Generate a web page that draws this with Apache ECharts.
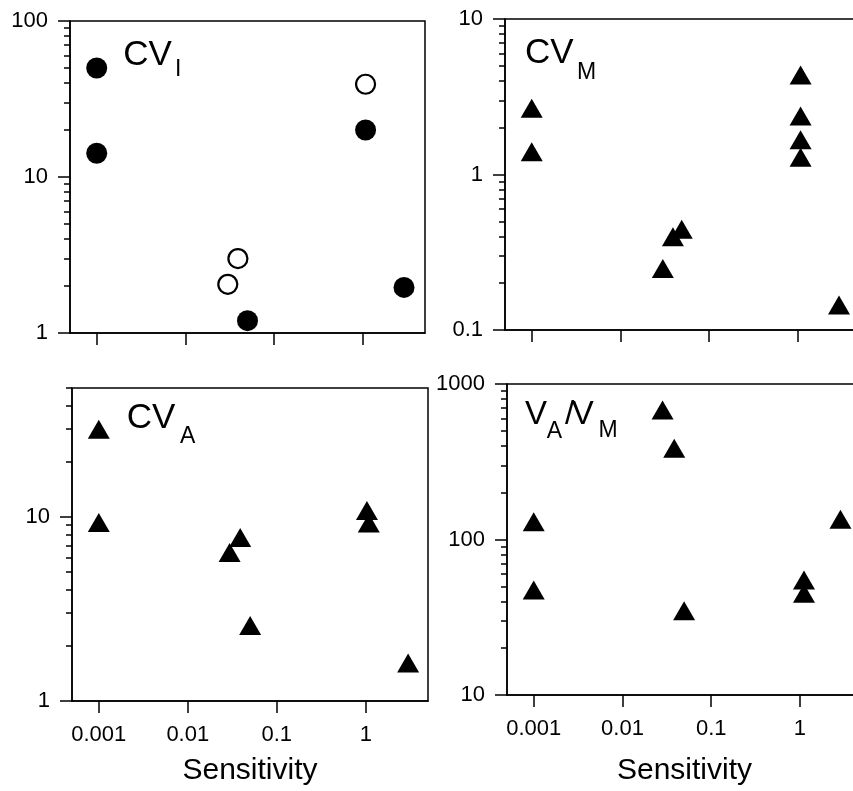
<!DOCTYPE html>
<html lang="en">
<head>
<meta charset="UTF-8">
<title>Sensitivity</title>
<script src="https://cdn.jsdelivr.net/npm/echarts@6/dist/echarts.min.js"></script>
<style>html,body{margin:0;padding:0;background:#fff;overflow:hidden}</style>
</head>
<body>
<!-- a bit wider than the window: the right panels run past the edge -->
<div id="chart" style="width:875px;height:791px"></div>
<script>
// CV_I panel (filled and open circles)
var cviFilledX = [0.001, 0.001, 0.05, 1.07, 2.9];
var cviFilledY = [50, 14.2, 1.2, 20, 1.96];
var cviOpenX = [1.07, 0.039, 0.03];
var cviOpenY = [39.3, 3.0, 2.05];
// CV_M panel
var cvmX = [0.001, 0.001, 1.07, 1.07, 1.07, 1.07, 0.03, 0.039, 0.049, 2.9];
var cvmY = [2.67, 1.40, 4.36, 2.38, 1.67, 1.29, 0.249, 0.398, 0.444, 0.145];
// CV_A panel
var cvaX = [0.001, 0.001, 0.0295, 0.0388, 0.0502, 1.03, 1.08, 2.99];
var cvaY = [29.9, 9.32, 6.39, 7.72, 2.57, 10.8, 9.24, 1.61];
// V_A/V_M panel
var ratioX = [0.001, 0.001, 0.0283, 0.0383, 0.0495, 1.11, 1.11, 2.86];
var ratioY = [130, 47.3, 681, 386, 34.8, 54.9, 45.1, 135];

// axes
var xTicks = [0.001, 0.01, 0.1, 1];
var xTickLabels = ['0.001', '0.01', '0.1', '1'];
var yTicksCVI = [1, 10, 100];
var yLabelsCVI = ['1', '10', '100'];
var yTicksCVM = [0.1, 1, 10];
var yLabelsCVM = ['0.1', '1', '10'];
var yTicksCVA = [1, 10];
var yLabelsCVA = ['1', '10'];
var yTicksRatio = [10, 100, 1000];
var yLabelsRatio = ['10', '100', '1000'];

var chart = echarts.init(document.getElementById('chart'));
var FONT = '"Liberation Sans", Arial, sans-serif';

function pairs(xs, ys) {
	return xs.map(function (x, i) { return [x, ys[i]]; });
}
// 2..9 times each power of ten inside [lo, hi]
function minorValues(lo, hi) {
	var res = [];
	for (var e = Math.floor(Math.log10(lo)); e <= Math.ceil(Math.log10(hi)); e++) {
		for (var k = 2; k <= 9; k++) {
			var v = +(k * Math.pow(10, e)).toPrecision(6);
			if (v >= lo && v <= hi) res.push(v);
		}
	}
	return res;
}
function labeler(ticks, labels) {
	return function (v) {
		for (var i = 0; i < ticks.length; i++) {
			if (Math.abs(ticks[i] - v) < ticks[i] * 1e-6) return labels[i];
		}
		return '';
	};
}

var line = {color: '#000', width: 1.5};
var panels = [
	{grid: {left: 70, top: 21, width: 355, height: 312}, ymin: 1, ymax: 100, yt: yTicksCVI, yl: yLabelsCVI, bottom: false},
	{grid: {left: 505, top: 19, width: 355, height: 311}, ymin: 0.1, ymax: 10, yt: yTicksCVM, yl: yLabelsCVM, bottom: false},
	{grid: {left: 72, top: 388, width: 356, height: 313}, ymin: 1, ymax: 50, yt: yTicksCVA, yl: yLabelsCVA, bottom: true, gap: 55},
	{grid: {left: 507, top: 384, width: 355, height: 311}, ymin: 10, ymax: 1000, yt: yTicksRatio, yl: yLabelsRatio, bottom: true, gap: 61}
];

var grid = [], xAxis = [], yAxis = [];
panels.forEach(function (p, i) {
	grid.push(Object.assign({show: true, borderColor: '#000', borderWidth: 1.5, backgroundColor: 'transparent'}, p.grid));
	xAxis.push({
		type: 'log', gridIndex: i, min: 0.0005, max: 5,
		axisLine: {show: true, onZero: false, lineStyle: line},
		axisTick: {show: true, customValues: xTicks, length: 12, lineStyle: line},
		axisLabel: {show: p.bottom, customValues: xTicks, formatter: labeler(xTicks, xTickLabels),
			color: '#000', fontSize: 22, fontFamily: FONT, margin: 23},
		splitLine: {show: false},
		name: p.bottom ? 'Sensitivity' : '', nameLocation: 'middle', nameGap: p.gap || 0,
		nameTextStyle: {color: '#000', fontSize: 30, fontFamily: FONT}
	});
	yAxis.push({
		type: 'log', gridIndex: i, min: p.ymin, max: p.ymax, position: 'left',
		axisLine: {show: true, onZero: false, lineStyle: line},
		axisTick: {show: true, customValues: p.yt, length: 12, lineStyle: line},
		axisLabel: {show: true, customValues: p.yt, formatter: labeler(p.yt, p.yl),
			color: '#000', fontSize: 22, fontFamily: FONT, margin: 22},
		splitLine: {show: false}
	});
	// minor ticks
	yAxis.push({
		type: 'log', gridIndex: i, min: p.ymin, max: p.ymax, position: 'left',
		axisLine: {show: false, onZero: false},
		axisTick: {show: true, customValues: minorValues(p.ymin, p.ymax), length: 6, lineStyle: line},
		axisLabel: {show: false},
		splitLine: {show: false}
	});
});

var tri = {symbol: 'triangle', symbolSize: [22, 19], itemStyle: {color: '#000', opacity: 1}};
function scatter(idx, data, style) {
	return Object.assign({type: 'scatter', xAxisIndex: idx, yAxisIndex: idx * 2, data: data, silent: true, clip: false}, style);
}

function txt(s, x, y, size) {
	return {type: 'text', x: x, y: y, silent: true,
		style: {text: s, fill: '#000', font: size + 'px ' + FONT, verticalAlign: 'middle', align: 'left'}};
}

var option = {
	backgroundColor: '#fff',
	animation: false,
	grid: grid,
	xAxis: xAxis,
	yAxis: yAxis,
	series: [
		scatter(0, pairs(cviFilledX, cviFilledY), {symbol: 'circle', symbolSize: 21, itemStyle: {color: '#000', opacity: 1}}),
		scatter(0, pairs(cviOpenX, cviOpenY), {symbol: 'circle', symbolSize: 19, itemStyle: {color: '#fff', borderColor: '#000', borderWidth: 2.2, opacity: 1}}),
		scatter(1, pairs(cvmX, cvmY), tri),
		scatter(2, pairs(cvaX, cvaY), tri),
		scatter(3, pairs(ratioX, ratioY), tri)
	],
	graphic: [
		txt('CV', 123.3, 55.3, 35), txt('I', 175, 70, 23),
		txt('CV', 525, 53.3, 35), txt('M', 577, 73, 23),
		txt('CV', 126.7, 418.8, 35), txt('A', 180, 436.8, 23),
		txt('V', 525, 415, 33), txt('A', 546.7, 431.3, 23), txt('/', 565, 415, 33),
		txt('V', 571.7, 415, 33), txt('M', 598.5, 431, 23)
	]
};
chart.setOption(option);
</script>
</body>
</html>
